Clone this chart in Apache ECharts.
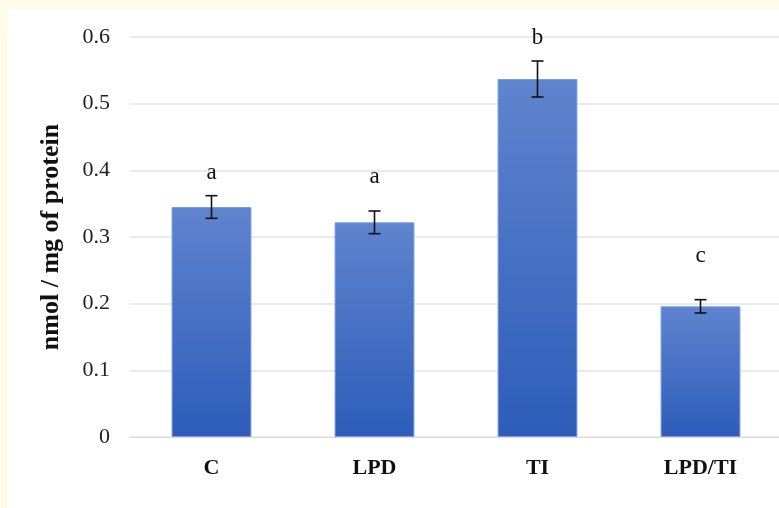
<!DOCTYPE html>
<html>
<head>
<meta charset="utf-8">
<script src="https://cdn.jsdelivr.net/npm/echarts@6/dist/echarts.min.js"></script>
<style>
  html, body { margin: 0; padding: 0; overflow: hidden; background: #fffbe6; }
  #frame { position: absolute; left: 7px; top: 9px; width: 772px; height: 499px; background: #ffffff; overflow: hidden; }
  #chart { position: absolute; left: -7px; top: -9px; width: 782px; height: 508px; }
</style>
</head>
<body>
<div id="frame"><div id="chart"></div></div>
<script>
// Groups and measured values (nmol / mg of protein)
const categories = ['C', 'LPD', 'TI', 'LPD/TI'];
const means = [0.345, 0.322, 0.537, 0.196];
const errors = [0.017, 0.017, 0.027, 0.010];
// Significance letters and the height (in axis units) at which each is written
const letters = ['a', 'a', 'b', 'c'];
const letterHeights = [0.396, 0.390, 0.598, 0.272];
const yTicks = [0, 0.1, 0.2, 0.3, 0.4, 0.5, 0.6];

const serif = '"Liberation Serif", "Times New Roman", serif';

const chart = echarts.init(document.getElementById('chart'));

const barColor = new echarts.graphic.LinearGradient(0, 0, 0, 1, [
  { offset: 0, color: '#5f84cf' },
  { offset: 1, color: '#2d5db9' }
]);

chart.setOption({
  animation: false,
  grid: { left: 130, right: 0, top: 37, bottom: 71, containLabel: false },
  xAxis: {
    type: 'category',
    data: categories,
    axisLine: { show: true, lineStyle: { color: '#d9dbe3', width: 1 } },
    axisTick: { show: false },
    axisLabel: {
      margin: 20,
      fontFamily: serif,
      fontWeight: 'bold',
      fontSize: 22,
      color: '#111'
    }
  },
  yAxis: {
    type: 'value',
    min: yTicks[0],
    max: yTicks[yTicks.length - 1],
    interval: 0.1,
    name: 'nmol / mg of protein',
    nameLocation: 'middle',
    nameGap: 66,
    nameRotate: 90,
    nameTextStyle: {
      fontFamily: serif,
      fontWeight: 'bold',
      fontSize: 26,
      color: '#111'
    },
    axisLine: { show: false },
    axisTick: { show: false },
    splitLine: { lineStyle: { color: '#e1e3ea', width: 1.5 } },
    axisLabel: {
      margin: 20,
      fontFamily: serif,
      fontSize: 22,
      color: '#222',
      formatter: v => (v === 0 ? '0' : v.toFixed(1))
    }
  },
  series: [
    {
      type: 'bar',
      data: means,
      barWidth: '49%',
      itemStyle: { color: barColor, borderColor: '#7e9ddb', borderWidth: 1 },
      z: 2
    },
    {
      // error bars: vertical whisker with caps
      type: 'custom',
      data: means.map((m, i) => [i, m - errors[i], m + errors[i]]),
      z: 3,
      renderItem: (params, api) => {
        const lo = api.coord([api.value(0), api.value(1)]);
        const hi = api.coord([api.value(0), api.value(2)]);
        const cap = 6;
        const style = { stroke: '#111', lineWidth: 1.6 };
        return {
          type: 'group',
          children: [
            { type: 'line', shape: { x1: lo[0], y1: lo[1], x2: hi[0], y2: hi[1] }, style },
            { type: 'line', shape: { x1: lo[0] - cap, y1: lo[1], x2: lo[0] + cap, y2: lo[1] }, style },
            { type: 'line', shape: { x1: hi[0] - cap, y1: hi[1], x2: hi[0] + cap, y2: hi[1] }, style }
          ]
        };
      }
    },
    {
      // significance letters
      type: 'custom',
      data: letterHeights.map((h, i) => [i, h]),
      z: 4,
      renderItem: (params, api) => {
        const p = api.coord([api.value(0), api.value(1)]);
        return {
          type: 'text',
          x: p[0],
          y: p[1],
          style: {
            text: letters[params.dataIndex],
            fontFamily: serif,
            fontSize: 23,
            fill: '#111',
            align: 'center',
            verticalAlign: 'middle'
          }
        };
      }
    }
  ]
});
</script>
</body>
</html>
